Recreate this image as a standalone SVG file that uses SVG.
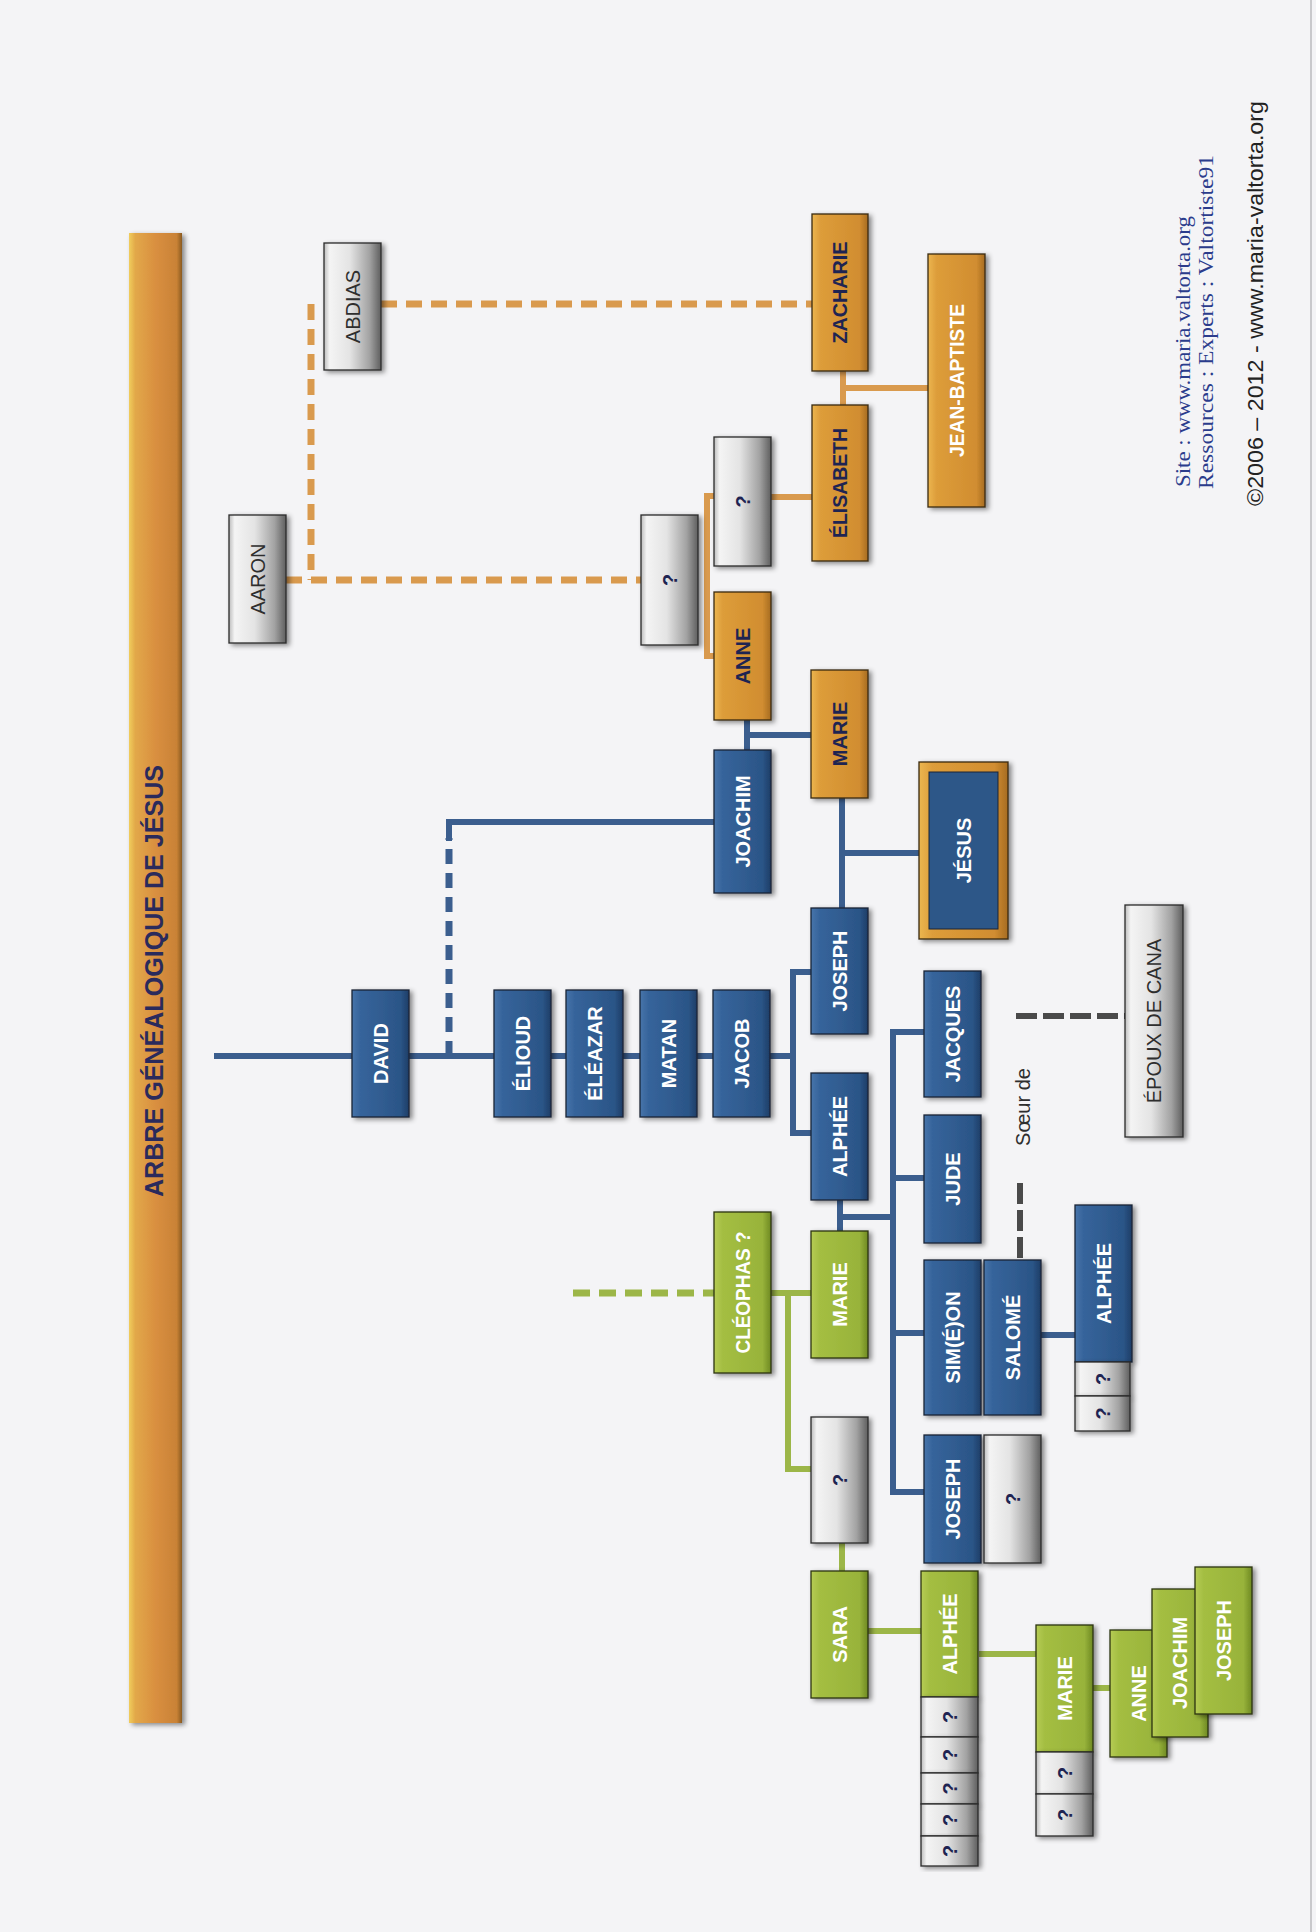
<svg xmlns="http://www.w3.org/2000/svg" width="1316" height="1932" viewBox="0 0 1316 1932">
<defs>
<linearGradient id="gBlue" x1="0" y1="0" x2="1" y2="0"><stop offset="0" stop-color="#4774aa"/><stop offset="0.15" stop-color="#36649b"/><stop offset="0.85" stop-color="#2b5587"/><stop offset="1" stop-color="#1d3d66"/></linearGradient>
<linearGradient id="gOrange" x1="0" y1="0" x2="1" y2="0"><stop offset="0" stop-color="#ecb650"/><stop offset="0.15" stop-color="#dd9d3a"/><stop offset="0.85" stop-color="#d18d30"/><stop offset="1" stop-color="#a66c22"/></linearGradient>
<linearGradient id="gGreen" x1="0" y1="0" x2="1" y2="0"><stop offset="0" stop-color="#b6cc55"/><stop offset="0.15" stop-color="#a4be42"/><stop offset="0.85" stop-color="#98b33a"/><stop offset="1" stop-color="#6e8923"/></linearGradient>
<linearGradient id="gGray" x1="0" y1="0" x2="1" y2="0"><stop offset="0" stop-color="#bcbcbc"/><stop offset="0.1" stop-color="#f4f4f4"/><stop offset="0.45" stop-color="#e4e4e4"/><stop offset="0.8" stop-color="#a2a2a2"/><stop offset="1" stop-color="#5e5e5e"/></linearGradient>
<linearGradient id="gBar" x1="0" y1="0" x2="1" y2="0"><stop offset="0" stop-color="#f0cd5c"/><stop offset="0.12" stop-color="#e2a849"/><stop offset="0.5" stop-color="#d98f40"/><stop offset="0.9" stop-color="#c98236"/><stop offset="1" stop-color="#8a5a20"/></linearGradient>
<filter id="sh" x="-20%" y="-10%" width="150%" height="130%"><feDropShadow dx="3" dy="2" stdDeviation="2.5" flood-color="#000" flood-opacity="0.45"/></filter>
</defs>
<style>
.b{fill:url(#gBlue);stroke:#1a2436;stroke-width:1.3;filter:url(#sh)}
.o{fill:url(#gOrange);stroke:#3a2a10;stroke-width:1.3;filter:url(#sh)}
.g{fill:url(#gGreen);stroke:#2c3410;stroke-width:1.3;filter:url(#sh)}
.q{fill:url(#gGray);stroke:#2a2a2a;stroke-width:1.3;filter:url(#sh)}
text{font-family:"Liberation Sans",Arial,sans-serif;text-anchor:middle;dominant-baseline:central}
.tw{fill:#fff;font-weight:bold;font-size:20px}
.td{fill:#1e2452;font-weight:bold;font-size:20px}
.tq{fill:#1e2452;font-weight:bold;font-size:20px}
.tg{fill:#2e2e2e;font-size:20px}
.lb{fill:none;stroke:#3b5e8e;stroke-width:6}
.lo{fill:none;stroke:#d99a4e;stroke-width:6}
.lg{fill:none;stroke:#9cb648;stroke-width:6}
.dob{fill:none;stroke:#d99a4e;stroke-width:7;stroke-dasharray:16 9}
.dbb{fill:none;stroke:#3b5e8e;stroke-width:7;stroke-dasharray:15 9}
.dgb{fill:none;stroke:#9cb648;stroke-width:7;stroke-dasharray:17 9}
.dk{fill:none;stroke:#4a4a4a;stroke-width:6;stroke-dasharray:21 6}
.foot{font-family:"Liberation Serif","Times New Roman",serif;font-size:20px;fill:#2b3c8c;text-anchor:start;dominant-baseline:alphabetic}
</style>
<rect x="0" y="0" width="1316" height="1932" fill="#f4f4f6"/>
<line x1="1311" y1="0" x2="1311" y2="1932" stroke="#c9c9cc" stroke-width="2"/>

<g id="title">
<rect x="129" y="233" width="53" height="1490" fill="url(#gBar)" filter="url(#sh)"/>
<text transform="translate(154,981) rotate(-90)" fill="#2a2a5c" font-weight="bold" font-size="25" textLength="432" lengthAdjust="spacingAndGlyphs">ARBRE GÉNÉALOGIQUE DE JÉSUS</text>
</g>

<g id="connectors">
<path class="dob" d="M381,304 H812"/>
<path class="dob" d="M311,304 V580"/>
<path class="dob" d="M286,580 H641"/>
<path class="lo" d="M771,497 H812"/>
<path class="lo" d="M714,496 H707 V656 H714" stroke-width="5"/>
<path class="lo" d="M843,371 V405 M843,388 H928"/>
<path class="lb" d="M214,1056 H713"/>
<path class="lb" d="M770,1056 H793 M811,972 H793 V1133 H811"/>
<path class="dbb" d="M449,1056 V838"/>
<path class="lb" d="M449,841 V822 H714"/>
<path class="lb" d="M747,720 V750 M747,735 H811"/>
<path class="lb" d="M842,798 V908 M842,853 H919"/>
<path class="lb" d="M840,1200 V1231 M840,1217 H893"/>
<path class="lb" d="M924,1032 H893 V1492 H924 M893,1178 H924 M893,1333 H924"/>
<path class="lb" d="M1041,1335 H1075"/>
<path class="dgb" d="M573,1293 H714"/>
<path class="lg" d="M771,1293 H811 M788,1293 V1469 H811"/>
<path class="lg" d="M842,1543 V1571"/>
<path class="lg" d="M868,1631 H921"/>
<path class="lg" d="M979,1654 H1036"/>
<path class="lg" d="M1093,1688 H1110"/>
<path class="dk" d="M1020,1183 V1260"/>
<path class="dk" d="M1016,1016 H1125"/>
</g>

<g id="abdias"><rect class="q" x="324" y="243" width="57" height="127"/><text class="tg" transform="translate(352.5,306.5) rotate(-90)">ABDIAS</text></g>
<g id="aaron"><rect class="q" x="229" y="515" width="57" height="128"/><text class="tg" transform="translate(257.5,579) rotate(-90)">AARON</text></g>
<g id="zacharie"><rect class="o" x="812" y="214" width="56" height="157"/><text class="td" transform="translate(840,292.5) rotate(-90)" textLength="102" lengthAdjust="spacingAndGlyphs">ZACHARIE</text></g>
<g id="elisabeth"><rect class="o" x="812" y="405" width="56" height="156"/><text class="td" transform="translate(840,483) rotate(-90)" textLength="110" lengthAdjust="spacingAndGlyphs">ÉLISABETH</text></g>
<g id="jean-baptiste"><rect class="o" x="928" y="254" width="57" height="253"/><text class="tw" transform="translate(956.5,380.5) rotate(-90)" textLength="153" lengthAdjust="spacingAndGlyphs">JEAN-BAPTISTE</text></g>
<g id="q-elisabeth-parent"><rect class="q" x="714" y="437" width="57" height="129"/><text class="tq" transform="translate(742.5,501.5) rotate(-90)">?</text></g>
<g id="q-anne-parent"><rect class="q" x="641" y="515" width="57" height="130"/><text class="tq" transform="translate(669.5,580) rotate(-90)">?</text></g>
<g id="anne"><rect class="o" x="714" y="592" width="57" height="128"/><text class="td" transform="translate(742.5,656) rotate(-90)">ANNE</text></g>
<g id="marie"><rect class="o" x="811" y="670" width="57" height="128"/><text class="td" transform="translate(839.5,734) rotate(-90)">MARIE</text></g>
<g id="joachim"><rect class="b" x="714" y="750" width="57" height="143"/><text class="tw" transform="translate(742.5,821.5) rotate(-90)">JOACHIM</text></g>
<g id="jesus"><rect x="919" y="762" width="89" height="177" fill="url(#gOrange)" stroke="#3a2a10" stroke-width="1.3" filter="url(#sh)"/><rect x="929" y="772" width="69" height="157" fill="#2d5788" stroke="#1a2436" stroke-width="1"/><text class="tw" transform="translate(963.5,850.5) rotate(-90)">JÉSUS</text></g>
<g id="david"><rect class="b" x="352" y="990" width="57" height="127"/><text class="tw" transform="translate(380.5,1053.5) rotate(-90)">DAVID</text></g>
<g id="elioud"><rect class="b" x="494" y="990" width="57" height="127"/><text class="tw" transform="translate(522.5,1053.5) rotate(-90)">ÉLIOUD</text></g>
<g id="eleazar"><rect class="b" x="566" y="990" width="57" height="127"/><text class="tw" transform="translate(594.5,1053.5) rotate(-90)">ÉLÉAZAR</text></g>
<g id="matan"><rect class="b" x="640" y="990" width="57" height="127"/><text class="tw" transform="translate(668.5,1053.5) rotate(-90)">MATAN</text></g>
<g id="jacob"><rect class="b" x="713" y="990" width="57" height="127"/><text class="tw" transform="translate(741.5,1053.5) rotate(-90)">JACOB</text></g>
<g id="joseph"><rect class="b" x="811" y="908" width="57" height="126"/><text class="tw" transform="translate(839.5,971) rotate(-90)">JOSEPH</text></g>
<g id="alphee"><rect class="b" x="811" y="1073" width="57" height="127"/><text class="tw" transform="translate(839.5,1136.5) rotate(-90)">ALPHÉE</text></g>
<g id="jacques"><rect class="b" x="924" y="971" width="57" height="126"/><text class="tw" transform="translate(952.5,1034) rotate(-90)">JACQUES</text></g>
<g id="jude"><rect class="b" x="924" y="1115" width="57" height="128"/><text class="tw" transform="translate(952.5,1179) rotate(-90)">JUDE</text></g>
<g id="simeon"><rect class="b" x="924" y="1260" width="57" height="155"/><text class="tw" transform="translate(952.5,1337.5) rotate(-90)">SIM(É)ON</text></g>
<g id="salome"><rect class="b" x="984" y="1260" width="57" height="155"/><text class="tw" transform="translate(1012.5,1337.5) rotate(-90)">SALOMÉ</text></g>
<g id="joseph-fils"><rect class="b" x="924" y="1435" width="57" height="128"/><text class="tw" transform="translate(952.5,1499) rotate(-90)">JOSEPH</text></g>
<g id="q-joseph-epouse"><rect class="q" x="984" y="1435" width="57" height="128"/><text class="tq" transform="translate(1012.5,1499) rotate(-90)">?</text></g>
<g id="alphee-salome"><rect class="b" x="1075" y="1205" width="57" height="157"/><text class="tw" transform="translate(1103.5,1283.5) rotate(-90)">ALPHÉE</text></g>
<g id="q-salome-1"><rect class="q" x="1075" y="1362" width="55" height="34"/><text class="tq" transform="translate(1102.5,1379) rotate(-90)">?</text></g>
<g id="q-salome-2"><rect class="q" x="1075" y="1396" width="55" height="35"/><text class="tq" transform="translate(1102.5,1413.5) rotate(-90)">?</text></g>
<g id="epoux-cana"><rect class="q" x="1125" y="905" width="58" height="232"/><text class="tg" transform="translate(1154,1021) rotate(-90)">ÉPOUX DE CANA</text></g>
<g id="soeur-de"><text class="tg" font-size="21" transform="translate(1023,1107) rotate(-90)">Sœur de</text></g>
<g id="cleophas"><rect class="g" x="714" y="1212" width="57" height="161"/><text class="tw" transform="translate(742.5,1292.5) rotate(-90)" textLength="122" lengthAdjust="spacingAndGlyphs">CLÉOPHAS ?</text></g>
<g id="marie-cleophas"><rect class="g" x="811" y="1231" width="57" height="127"/><text class="tw" transform="translate(839.5,1294.5) rotate(-90)">MARIE</text></g>
<g id="q-cleophas-fils"><rect class="q" x="811" y="1417" width="57" height="126"/><text class="tq" transform="translate(839.5,1480) rotate(-90)">?</text></g>
<g id="sara"><rect class="g" x="811" y="1571" width="57" height="127"/><text class="tw" transform="translate(839.5,1634.5) rotate(-90)">SARA</text></g>
<g id="alphee-sara"><rect class="g" x="921" y="1571" width="57" height="126"/><text class="tw" transform="translate(949.5,1634) rotate(-90)">ALPHÉE</text></g>
<g id="q-alphee-1"><rect class="q" x="921" y="1697" width="57" height="40"/><text class="tq" transform="translate(949.5,1717) rotate(-90)">?</text></g>
<g id="q-alphee-2"><rect class="q" x="921" y="1737" width="57" height="36"/><text class="tq" transform="translate(949.5,1755) rotate(-90)">?</text></g>
<g id="q-alphee-3"><rect class="q" x="921" y="1773" width="57" height="31"/><text class="tq" transform="translate(949.5,1788.5) rotate(-90)">?</text></g>
<g id="q-alphee-4"><rect class="q" x="921" y="1804" width="57" height="32"/><text class="tq" transform="translate(949.5,1820) rotate(-90)">?</text></g>
<g id="q-alphee-5"><rect class="q" x="921" y="1836" width="57" height="30"/><text class="tq" transform="translate(949.5,1851) rotate(-90)">?</text></g>
<g id="marie-alphee"><rect class="g" x="1036" y="1625" width="57" height="127"/><text class="tw" transform="translate(1064.5,1688.5) rotate(-90)">MARIE</text></g>
<g id="q-marie-1"><rect class="q" x="1036" y="1752" width="57" height="42"/><text class="tq" transform="translate(1064.5,1773) rotate(-90)">?</text></g>
<g id="q-marie-2"><rect class="q" x="1036" y="1794" width="57" height="42"/><text class="tq" transform="translate(1064.5,1815) rotate(-90)">?</text></g>
<g id="anne-petite"><rect class="g" x="1110" y="1630" width="57" height="127"/><text class="tw" transform="translate(1138.5,1693.5) rotate(-90)">ANNE</text></g>
<g id="joachim-petit"><rect class="g" x="1152" y="1589" width="56" height="148"/><text class="tw" transform="translate(1180,1663) rotate(-90)">JOACHIM</text></g>
<g id="joseph-petit"><rect class="g" x="1195" y="1567" width="57" height="147"/><text class="tw" transform="translate(1223.5,1640.5) rotate(-90)">JOSEPH</text></g>

<g id="footer">
<text class="foot" transform="translate(1190,487) rotate(-90)" textLength="271" lengthAdjust="spacingAndGlyphs">Site : www.maria.valtorta.org</text>
<text class="foot" transform="translate(1213,489) rotate(-90)" textLength="334" lengthAdjust="spacingAndGlyphs">Ressources : Experts : Valtortiste91</text>
<text transform="translate(1263,506) rotate(-90)" style="text-anchor:start;dominant-baseline:alphabetic" font-size="22" fill="#222" textLength="405" lengthAdjust="spacingAndGlyphs">©2006 – 2012 - www.maria-valtorta.org</text>
</g>
</svg>
